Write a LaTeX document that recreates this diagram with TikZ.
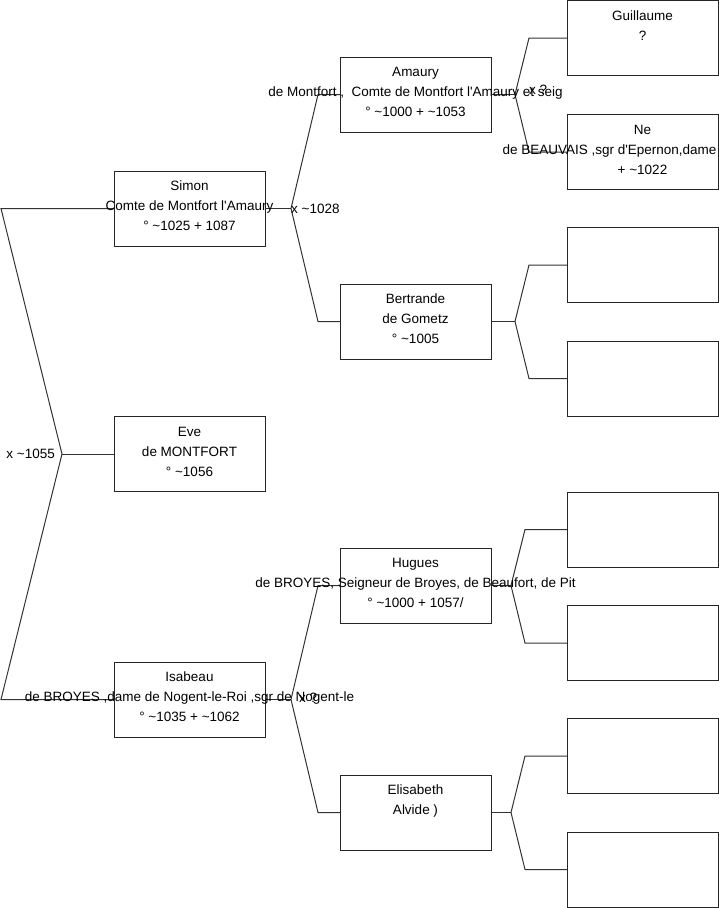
\documentclass[tikz,border=0pt]{standalone}
\usepackage{fontspec}
\setmainfont{Liberation Sans}
\begin{document}
\begin{tikzpicture}[x=1pt,y=-1pt,
  person/.style={draw=black!85,line width=1pt,minimum width=151pt,minimum height=75pt,inner sep=0pt,outer sep=0pt,fill=white},
  ptext/.style={anchor=north,inner sep=0pt,align=center,font=\fontsize{13.5}{20}\selectfont},
  lbl/.style={inner sep=0pt,font=\fontsize{13.5}{20}\selectfont},
  conn/.style={draw=black!80,line width=1pt}]
\useasboundingbox (0,0) rectangle (719,908);
% coordinates of forks
\coordinate (rf) at (62,454);
\coordinate (ra) at (1,208.5);
\coordinate (rb) at (1,699.5);
\coordinate (sf) at (291,208.5);
\coordinate (sa) at (318,94.5);
\coordinate (sb) at (318,321.5);
\coordinate (if) at (291,699.5);
\coordinate (ia) at (318,585.5);
\coordinate (ib) at (318,812.5);
\coordinate (af) at (515,94.5);
\coordinate (aa) at (529,38);
\coordinate (ab) at (529,152);
\coordinate (bf) at (515,321.5);
\coordinate (ba) at (529,265);
\coordinate (bb) at (529,378.5);
\coordinate (hf) at (511,585.5);
\coordinate (ha) at (525,529.5);
\coordinate (hb) at (525,643);
\coordinate (ef) at (511,812.5);
\coordinate (ea) at (525,756);
\coordinate (eb) at (525,869.5);
% boxes
\node[person] (simon) at (189.5,208.5) {};
\node[person] (eve) at (189.5,454) {};
\node[person] (isabeau) at (189.5,699.5) {};
\node[person] (amaury) at (415.5,94.5) {};
\node[person] (bertrande) at (415.5,321.5) {};
\node[person] (hugues) at (415.5,585.5) {};
\node[person] (elisabeth) at (415.5,812.5) {};
\node[person] (guillaume) at (642.5,38) {};
\node[person] (ne) at (642.5,152) {};
\node[person] (b1) at (642.5,265) {};
\node[person] (b2) at (642.5,378.5) {};
\node[person] (h1) at (642.5,529.5) {};
\node[person] (h2) at (642.5,643) {};
\node[person] (e1) at (642.5,756) {};
\node[person] (e2) at (642.5,869.5) {};
% connectors
\draw[conn] (simon.west) -- (ra) -- (rf) -- (rb) -- (isabeau.west);
\draw[conn] (rf) -- (eve.west);
\draw[conn] (simon.east) -- (sf);
\draw[conn] (amaury.west) -- (sa) -- (sf) -- (sb) -- (bertrande.west);
\draw[conn] (isabeau.east) -- (if);
\draw[conn] (hugues.west) -- (ia) -- (if) -- (ib) -- (elisabeth.west);
\draw[conn] (amaury.east) -- (af);
\draw[conn] (guillaume.west) -- (aa) -- (af) -- (ab) -- (ne.west);
\draw[conn] (bertrande.east) -- (bf);
\draw[conn] (b1.west) -- (ba) -- (bf) -- (bb) -- (b2.west);
\draw[conn] (hugues.east) -- (hf);
\draw[conn] (h1.west) -- (ha) -- (hf) -- (hb) -- (h2.west);
\draw[conn] (elisabeth.east) -- (ef);
\draw[conn] (e1.west) -- (ea) -- (ef) -- (eb) -- (e2.west);
% texts
\node[ptext] (tsimon) at ([yshift=-5.5pt]simon.north) {\strut Simon\\Comte de Montfort l\textquotesingle Amaury\\° \textasciitilde1025 + 1087};
\node[ptext] (teve) at ([yshift=-5.5pt]eve.north) {\strut Eve\\de MONTFORT\\° \textasciitilde1056};
\node[ptext] (tisabeau) at ([yshift=-5.5pt]isabeau.north) {\strut Isabeau\\de BROYES ,dame de Nogent-le-Roi ,sgr de Nogent-le\\° \textasciitilde1035 + \textasciitilde1062};
\node[ptext] (tamaury) at ([yshift=-5.5pt]amaury.north) {\strut Amaury\\de Montfort ,\ \ Comte de Montfort l\textquotesingle Amaury et seig\\° \textasciitilde1000 + \textasciitilde1053};
\node[ptext] (tbertrande) at ([yshift=-5.5pt]bertrande.north) {\strut Bertrande\\de Gometz\\° \textasciitilde1005};
\node[ptext] (thugues) at ([yshift=-5.5pt]hugues.north) {\strut Hugues\\de BROYES, Seigneur de Broyes, de Beaufort, de Pit\\° \textasciitilde1000 + 1057/};
\node[ptext] (telisabeth) at ([yshift=-5.5pt]elisabeth.north) {\strut Elisabeth\\Alvide )};
\node[ptext] (tguillaume) at ([yshift=-5.5pt]guillaume.north) {\strut Guillaume\\?};
\node[ptext] (tne) at ([yshift=-5.5pt]ne.north) {\strut Ne\\de BEAUVAIS ,sgr d\textquotesingle Epernon,dame de Nogent\\+ \textasciitilde1022};
% marriage labels
\node[lbl,anchor=east] (lroot) at ([xshift=-7pt]rf) {x \textasciitilde1055};
\node[lbl,anchor=west] (lsimon) at (sf) {x \textasciitilde1028};
\node[lbl,anchor=west] (lamaury) at ([xshift=14pt,yshift=5pt]af) {x ?};
\node[lbl,anchor=west] (lisabeau) at ([xshift=8pt,yshift=2pt]if) {x ?};
\end{tikzpicture}
\end{document}
